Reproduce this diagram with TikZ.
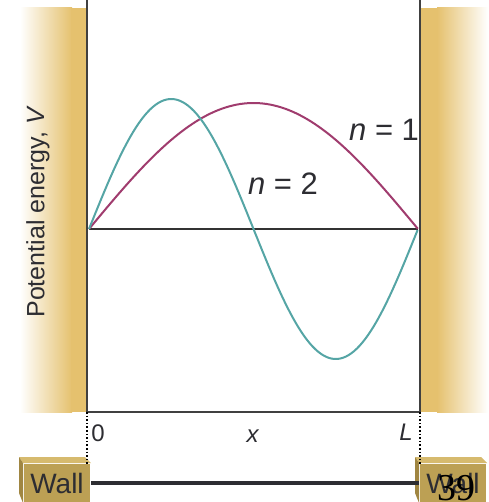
\documentclass[tikz,border=0pt]{standalone}
\usepackage{fontspec}
\setmainfont{Liberation Sans}
\newfontfamily\pagefont{Liberation Serif}
\definecolor{wallgold}{RGB}{229,193,110}
\definecolor{blockgold}{RGB}{188,160,84}
\definecolor{blocktop}{RGB}{214,186,110}
\definecolor{blockside}{RGB}{160,134,66}
\definecolor{waveone}{RGB}{160,60,110}
\definecolor{wavetwo}{RGB}{85,165,165}
\definecolor{inkgray}{RGB}{45,45,50}

\begin{document}
\begin{tikzpicture}[x=0.5pt,y=-0.5pt,line width=1pt,
  block/.style={fill=blockgold,minimum width=33pt,minimum height=19pt,inner sep=0pt,
    text=inkgray,font=\fontsize{14}{16}\selectfont},
  nlabel/.style={text=inkgray,inner sep=0pt,font=\fontsize{15.5}{18}\selectfont},
  axlabel/.style={text=inkgray,inner sep=0pt,font=\fontsize{12}{14}\selectfont}]
\useasboundingbox (0,0) rectangle (488,502);
% ---------- walls ----------
\shade[left color=white,right color=wallgold] (20,8) rectangle (72,412);
\fill[wallgold] (71,8) rectangle (87,412);
\fill[wallgold] (421,8) rectangle (438,412);
\shade[left color=wallgold,right color=white] (437,8) rectangle (488,412);
% ---------- box ----------
\coordinate (tl) at (87,0);
\coordinate (tr) at (420,0);
\coordinate (bl) at (87,412);
\coordinate (br) at (420,412);
\draw[line width=1.2pt,black!75] (tl) -- (bl) -- (br) -- (tr);
% axis V=0
\coordinate (o) at (89,229);
\coordinate (e) at (418,229);
\draw[black!80] (o) -- (e);
% ---------- waves ----------
\draw[waveone,domain=0:1,samples=90] plot ({89+329*\x},{229-126*sin(180*\x)});
\draw[wavetwo,domain=0:1,samples=120] plot ({89+329*\x},{229-130*sin(360*\x)});
\node[nlabel,anchor=east] (lbone) at (420,130) {\textit{n} = 1};
\node[nlabel] (lbtwo) at (283,184) {\textit{n} = 2};
% ---------- labels ----------
\node[rotate=90,text=inkgray,font=\fontsize{12.5}{15}\selectfont] (vlab) at (38,212) {Potential energy, \textit{V}};
\node[axlabel] (zero) at (98,433) {0};
\node[axlabel] (xlab) at (253,436) {\textit{x}};
\node[axlabel] (ellab) at (406,432) {\textit{L}};
% ---------- wall blocks ----------
\node[block] (wallL) at (57,483) {Wall};
\node[block] (wallR) at (453,483) {Wall};
\fill[blocktop] (wallL.north west) -- ++(-4,-6) -- ++(66,0) -- (wallL.north east) -- cycle;
\fill[blockside] (wallL.north west) -- ++(-4,-6) -- ++(0,36) -- (wallL.south west) -- cycle;
\fill[blocktop] (wallR.north west) -- ++(-4,-6) -- ++(66,0) -- (wallR.north east) -- cycle;
\fill[blockside] (wallR.north west) -- ++(-4,-6) -- ++(0,36) -- (wallR.south west) -- cycle;
\draw[densely dotted,line width=0.8pt] (bl) -- (87,464);
\draw[densely dotted,line width=0.8pt] (br) -- (420,464);
\draw[line width=1.6pt,inkgray] (wallL.east) -- (wallR.west);
\node[font=\pagefont\fontsize{19}{20}\selectfont] (pgnum) at (456,488) {39};
\end{tikzpicture}
\end{document}
